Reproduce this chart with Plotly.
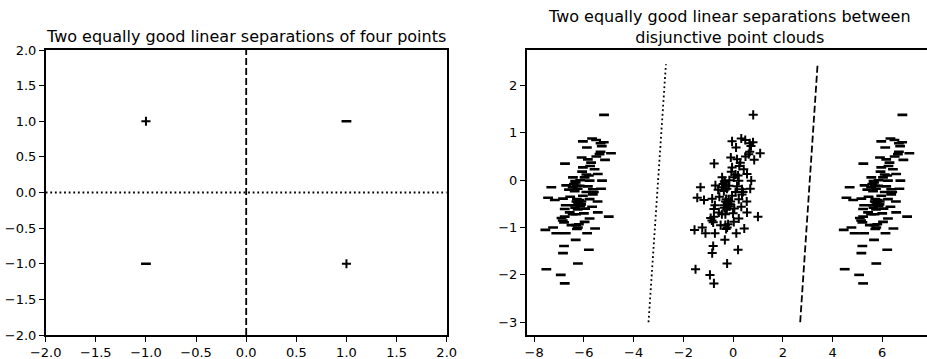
import plotly.graph_objects as go

# ---------------- Left panel data ----------------
left_plus_x = [-1.0, 1.0]
left_plus_y = [1.0, -1.0]
left_minus_x = [1.0, -1.0]
left_minus_y = [1.0, -1.0]
left_dotted_x = [-2.0, 2.0]
left_dotted_y = [0.0, 0.0]
left_dashed_x = [0.0, 0.0]
left_dashed_y = [-2.0, 2.0]
left_ticks = [-2.0, -1.5, -1.0, -0.5, 0.0, 0.5, 1.0, 1.5, 2.0]

# ---------------- Right panel data ----------------
cloud_x = [0.81, -0.04, 0.33, 0.49, 0.67, 0.80, 0.72, 0.12, 0.67, 1.09, 0.85, 0.63,
           -0.09, 0.16, -0.76, 0.29, -0.04, 0.43, -0.07, 0.56, 0.10, -0.44, 0.03, 0.73,
           0.23, -0.33, -0.71, -0.17, 0.16, -1.31, 0.69, 0.36, -0.37, -0.40, -0.30, -0.35,
           -0.25, -0.45, -0.84, -1.44, -1.17, 0.23, 0.36, -0.04, 0.40, -0.24, -0.37, -0.11,
           -0.73, 0.33, -0.30, -0.20, -0.15, -0.35, -0.25, -0.10, -0.28, -0.18, 0.56, -0.77,
           -0.57, 1.00, -0.77, -0.31, 0.23, -0.90, -0.85, -0.80, -0.31, -0.24, -0.20, -0.28,
           0.03, -0.45, -1.55, -1.24, -1.11, -0.73, 0.13, 0.45, -0.33, -0.80, -0.84, 0.20,
           -0.24, -1.51, -0.93, -0.77, -0.55, 0.10, 0.05, -0.60, 0.25, 0.50, 0.20, -0.15,
           0.55, -0.50, 0.00]
cloud_y = [1.38, 0.82, 0.88, 0.85, 0.78, 0.80, 0.72, 0.69, 0.60, 0.57, 0.43, 0.55,
           0.48, 0.44, 0.35, 0.37, 0.27, 0.23, 0.18, 0.13, 0.12, 0.06, 0.06, -0.01,
           -0.01, -0.05, -0.11, -0.12, -0.13, -0.15, -0.18, -0.19, -0.23, -0.08, -0.12, -0.02,
           -0.18, -0.15, -0.39, -0.37, -0.42, -0.40, -0.30, -0.33, -0.25, -0.47, -0.53, -0.51,
           -0.53, -0.56, -0.45, -0.50, -0.55, -0.58, -0.62, -0.45, -0.40, -0.42, -0.68, -0.61,
           -0.68, -0.77, -0.77, -0.72, -0.81, -0.80, -0.85, -0.89, -0.95, -1.00, -0.93, -1.03,
           -0.88, -0.72, -1.05, -1.00, -1.12, -1.12, -1.12, -1.02, -1.26, -1.39, -1.54, -1.47,
           -1.76, -1.88, -2.00, -2.18, -0.35, -0.25, -0.60, -0.20, 0.30, 0.50, 0.10, 0.00,
           -0.45, -0.95, -0.70]
cloud_shift = 6.0  # the two "-" clouds are the "+" cloud moved left and right
right_dotted_x = [-3.4, -2.7]
right_dotted_y = [-3.0, 2.45]
right_dashed_x = [2.7, 3.4]
right_dashed_y = [-3.0, 2.45]
right_xticks = [-8, -6, -4, -2, 0, 2, 4, 6]
right_yticks = [-3, -2, -1, 0, 1, 2]

left_title = "Two equally good linear separations of four points"
right_title = "Two equally good linear separations between<br>disjunctive point clouds"

FONT = "DejaVu Sans"
INK = "black"

plus_marker = dict(symbol="cross-thin", size=6.5, color=INK, line=dict(width=2, color=INK))
minus_marker = dict(symbol="line-ew", size=7, color=INK, line=dict(width=2.6, color=INK))

fig = go.Figure()

# Left panel
fig.add_trace(go.Scatter(x=left_dotted_x, y=left_dotted_y, mode="lines",
                         line=dict(color=INK, width=1.8, dash="1.8px,2.8px"),
                         xaxis="x", yaxis="y", showlegend=False, hoverinfo="skip"))
fig.add_trace(go.Scatter(x=left_dashed_x, y=left_dashed_y, mode="lines",
                         line=dict(color=INK, width=1.8, dash="7px,3px"),
                         xaxis="x", yaxis="y", showlegend=False, hoverinfo="skip"))
fig.add_trace(go.Scatter(x=left_plus_x, y=left_plus_y, mode="markers", marker=plus_marker,
                         xaxis="x", yaxis="y", showlegend=False))
fig.add_trace(go.Scatter(x=left_minus_x, y=left_minus_y, mode="markers", marker=minus_marker,
                         xaxis="x", yaxis="y", showlegend=False))

# Right panel
minus_left_x = [v - cloud_shift for v in cloud_x]
minus_right_x = [v + cloud_shift for v in cloud_x]
fig.add_trace(go.Scatter(x=minus_left_x, y=cloud_y, mode="markers", marker=minus_marker,
                         xaxis="x2", yaxis="y2", showlegend=False))
fig.add_trace(go.Scatter(x=cloud_x, y=cloud_y, mode="markers", marker=plus_marker,
                         xaxis="x2", yaxis="y2", showlegend=False))
fig.add_trace(go.Scatter(x=minus_right_x, y=cloud_y, mode="markers", marker=minus_marker,
                         xaxis="x2", yaxis="y2", showlegend=False))
fig.add_trace(go.Scatter(x=right_dotted_x, y=right_dotted_y, mode="lines",
                         line=dict(color=INK, width=1.8, dash="1.8px,2.8px"),
                         xaxis="x2", yaxis="y2", showlegend=False, hoverinfo="skip"))
fig.add_trace(go.Scatter(x=right_dashed_x, y=right_dashed_y, mode="lines",
                         line=dict(color=INK, width=1.8, dash="7px,3px"),
                         xaxis="x2", yaxis="y2", showlegend=False, hoverinfo="skip"))

W, H = 927, 359

def px_x(p):
    return p / W

def px_y(p):
    return (H - p) / H

axis_common = dict(showgrid=False, zeroline=False, showline=True, linecolor=INK,
                   linewidth=1.5, ticks="outside", ticklen=5, tickwidth=1.2,
                   tickcolor=INK, automargin=False,
                   tickfont=dict(family=FONT, size=13, color=INK))

fig.update_layout(
    width=W, height=H,
    margin=dict(l=0, r=0, t=0, b=0, pad=0, autoexpand=False),
    showlegend=False,
    paper_bgcolor="white", plot_bgcolor="white",
    font=dict(family=FONT, color=INK),
    xaxis=dict(domain=[px_x(45.7), px_x(446.7)], range=[-2, 2], tickvals=left_ticks,
               tickformat=".1f", mirror=True, anchor="y", **axis_common),
    yaxis=dict(domain=[px_y(335), px_y(50)], range=[-2, 2], tickvals=left_ticks,
               tickformat=".1f", mirror=True, anchor="x", **axis_common),
    xaxis2=dict(domain=[px_x(526.7), 1.0], range=[-8.3, 7.8], tickvals=right_xticks,
                mirror=True, anchor="y2", **axis_common),
    yaxis2=dict(domain=[px_y(335), px_y(50)], range=[-3.27, 2.75], tickvals=right_yticks,
                mirror=False, anchor="x2", **axis_common),
    annotations=[
        dict(text=left_title, xref="paper", yref="paper", x=px_x(246), y=px_y(36),
             xanchor="center", yanchor="middle", showarrow=False,
             font=dict(family=FONT, size=16, color=INK)),
        dict(text=right_title, xref="paper", yref="paper", x=px_x(729), y=px_y(27),
             xanchor="center", yanchor="middle", showarrow=False,
             font=dict(family=FONT, size=16, color=INK)),
    ],
)

fig.write_html("out.html")
